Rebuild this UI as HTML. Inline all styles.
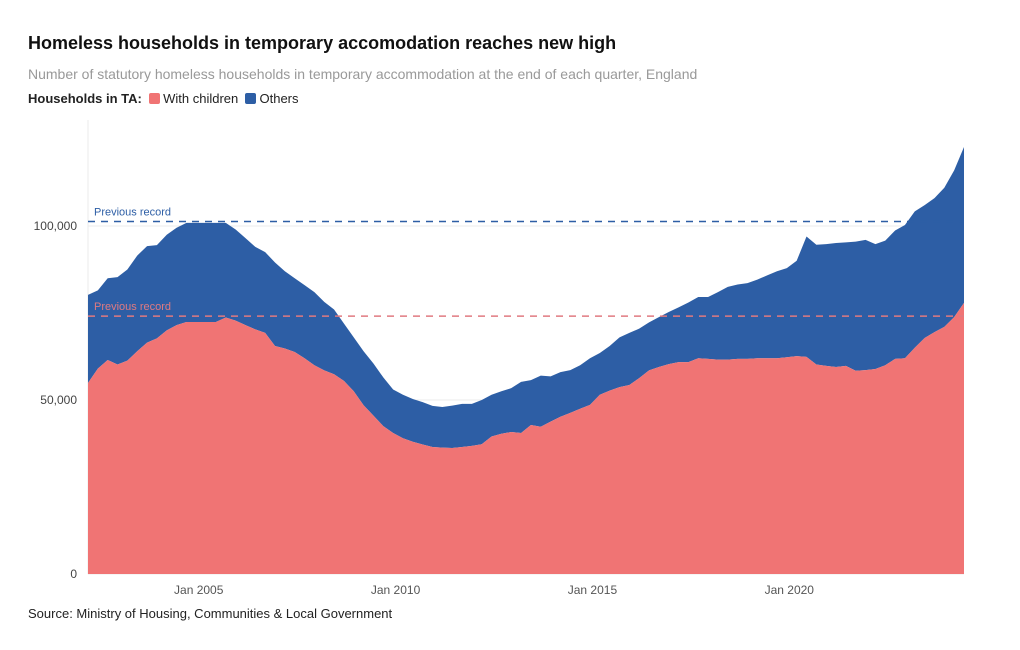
<!DOCTYPE html>
<html><head><meta charset="utf-8"><style>
body{margin:0;background:#fff;font-family:"Liberation Sans",sans-serif;}
#wrap{position:relative;width:1020px;height:650px;overflow:hidden;}
.t{position:absolute;white-space:nowrap;}
</style></head><body>
<div id="wrap">
<div class="t" style="left:28px;top:33px;font-size:18px;font-weight:bold;color:#111;">Homeless households in temporary accomodation reaches new high</div>
<div class="t" style="left:28px;top:66px;font-size:14px;color:#999;">Number of statutory homeless households in temporary accommodation at the end of each quarter, England</div>
<div class="t" style="left:28px;top:91px;font-size:13px;color:#222;">
<b>Households in TA:</b>
<span><span style="display:inline-block;width:11px;height:11px;background:#f07474;border-radius:2px;vertical-align:-1px;margin-left:3px;"></span> With children</span>
<span><span style="display:inline-block;width:11px;height:11px;background:#2d5ea5;border-radius:2px;vertical-align:-1px;margin-left:3px;"></span> Others</span>
</div>
<svg id="chart" width="1020" height="650" style="position:absolute;left:0;top:0"></svg>
<div class="t" style="left:28px;top:606px;font-size:13px;color:#222;">Source: Ministry of Housing, Communities &amp; Local Government</div>
</div>
<script>
const startYear = 2002;
const children = [54.9,59,61.5,60.2,61.3,64,66.5,67.7,70,71.5,72.4,72.4,72.4,72.4,73.7,72.8,71.5,70.3,69.3,65.5,64.8,63.8,62,60,58.5,57.4,55.5,52.5,48.5,45.5,42.5,40.5,39,38,37.2,36.5,36.3,36.2,36.5,36.8,37.3,39.5,40.3,40.8,40.5,42.8,42.3,43.8,45.2,46.3,47.5,48.6,51.5,52.7,53.7,54.3,56.3,58.5,59.5,60.3,60.9,60.9,62,61.8,61.6,61.6,61.8,61.8,62,62,62,62.3,62.6,62.4,60.2,59.8,59.5,59.8,58.4,58.6,58.9,60,61.8,62,65,67.8,69.5,71,73.8,77.9];
const others = [25.3,22.5,23.5,25.1,26.2,27.5,27.7,26.8,27.5,28,28.5,28.5,28.5,28.5,27.2,26.2,25,23.7,23.2,24,22.2,21.2,21,21,19.7,18.6,16.5,15.5,15.5,15,14,12.5,12.5,12.3,12.2,11.8,11.7,12.2,12.4,12.1,12.7,12,12.2,12.6,14.7,12.9,14.7,13,12.8,12.3,12.5,13.4,12,12.8,14.3,15,14.2,13.8,14.3,15,15.7,17.1,17.6,17.8,19.4,20.9,21.4,21.8,22.6,23.8,25,25.6,27.4,34.6,34.4,35,35.6,35.5,37.1,37.4,35.9,35.8,36.9,38.3,39.2,38.2,38.5,40,42.2,44.8];
const yTicks = [0,50000,100000];
const yTickLabels = ["0","50,000","100,000"];
const xTickYears = [2005,2010,2015,2020];
const xTickLabels = ["Jan 2005","Jan 2010","Jan 2015","Jan 2020"];
const recordChildren = 74.1;
const recordTotal = 101.3;

const svg = document.getElementById('chart');
const NS = 'http://www.w3.org/2000/svg';
const X0=88, X1=964, Y0=574, PPK=3.48;
const n = children.length;
function xq(i){return X0 + i*(X1-X0)/(n-1);}
function xYear(y){return X0 + ((y - startYear)*4 - 0.75)*(X1-X0)/(n-1);}
function yv(k){return Y0 - k*PPK;}
function mk(tag, attrs){const e=document.createElementNS(NS,tag);for(const k in attrs)e.setAttribute(k,attrs[k]);svg.appendChild(e);return e;}

yTicks.forEach((v,i)=>{
  const g = mk('line',{x1:X0,x2:X1,y1:yv(v/1000),y2:yv(v/1000),stroke:'#ebebeb'});
  
  
  const t = mk('text',{x:77,y:yv(v/1000)+4,'text-anchor':'end','font-size':12,fill:'#444','font-family':'Liberation Sans, sans-serif'});
  t.textContent = yTickLabels[i];
  
  
});
const ax = mk('line',{x1:X0,x2:X0,y1:120,y2:Y0,stroke:'#ebebeb'});



const tot = children.map((c,i)=>c+others[i]);
function area(top,bot){
  let d='M'+xq(0)+','+yv(top[0]);
  for(let i=1;i<n;i++) d+='L'+xq(i)+','+yv(top[i]);
  for(let i=n-1;i>=0;i--) d+='L'+xq(i)+','+yv(bot[i]);
  return d+'Z';
}
const aO = mk('path',{d:area(tot,children),fill:'#2d5ea5'});


const aC = mk('path',{d:area(children,children.map(()=>0)),fill:'#f07474'});



xTickYears.forEach((y,i)=>{
  const t = mk('text',{x:xYear(y),y:594,'text-anchor':'middle','font-size':12,fill:'#555','font-family':'Liberation Sans, sans-serif'});
  t.textContent = xTickLabels[i];
  
  
});

const r1 = mk('line',{x1:X0,x2:X1,y1:yv(recordTotal),y2:yv(recordTotal),stroke:'#2d5ea5','stroke-width':1.5,'stroke-dasharray':'7,6'});


const l1 = mk('text',{x:94,y:yv(recordTotal)-6,'font-size':11,fill:'#2d5ea5','font-family':'Liberation Sans, sans-serif'});
l1.textContent='Previous record';


const r2 = mk('line',{x1:X0,x2:X1,y1:yv(recordChildren),y2:yv(recordChildren),stroke:'#e07a80','stroke-width':1.5,'stroke-dasharray':'7,6'});


const l2 = mk('text',{x:94,y:yv(recordChildren)-6,'font-size':11,fill:'#e07a80','font-family':'Liberation Sans, sans-serif'});
l2.textContent='Previous record';


</script>
</body></html>
